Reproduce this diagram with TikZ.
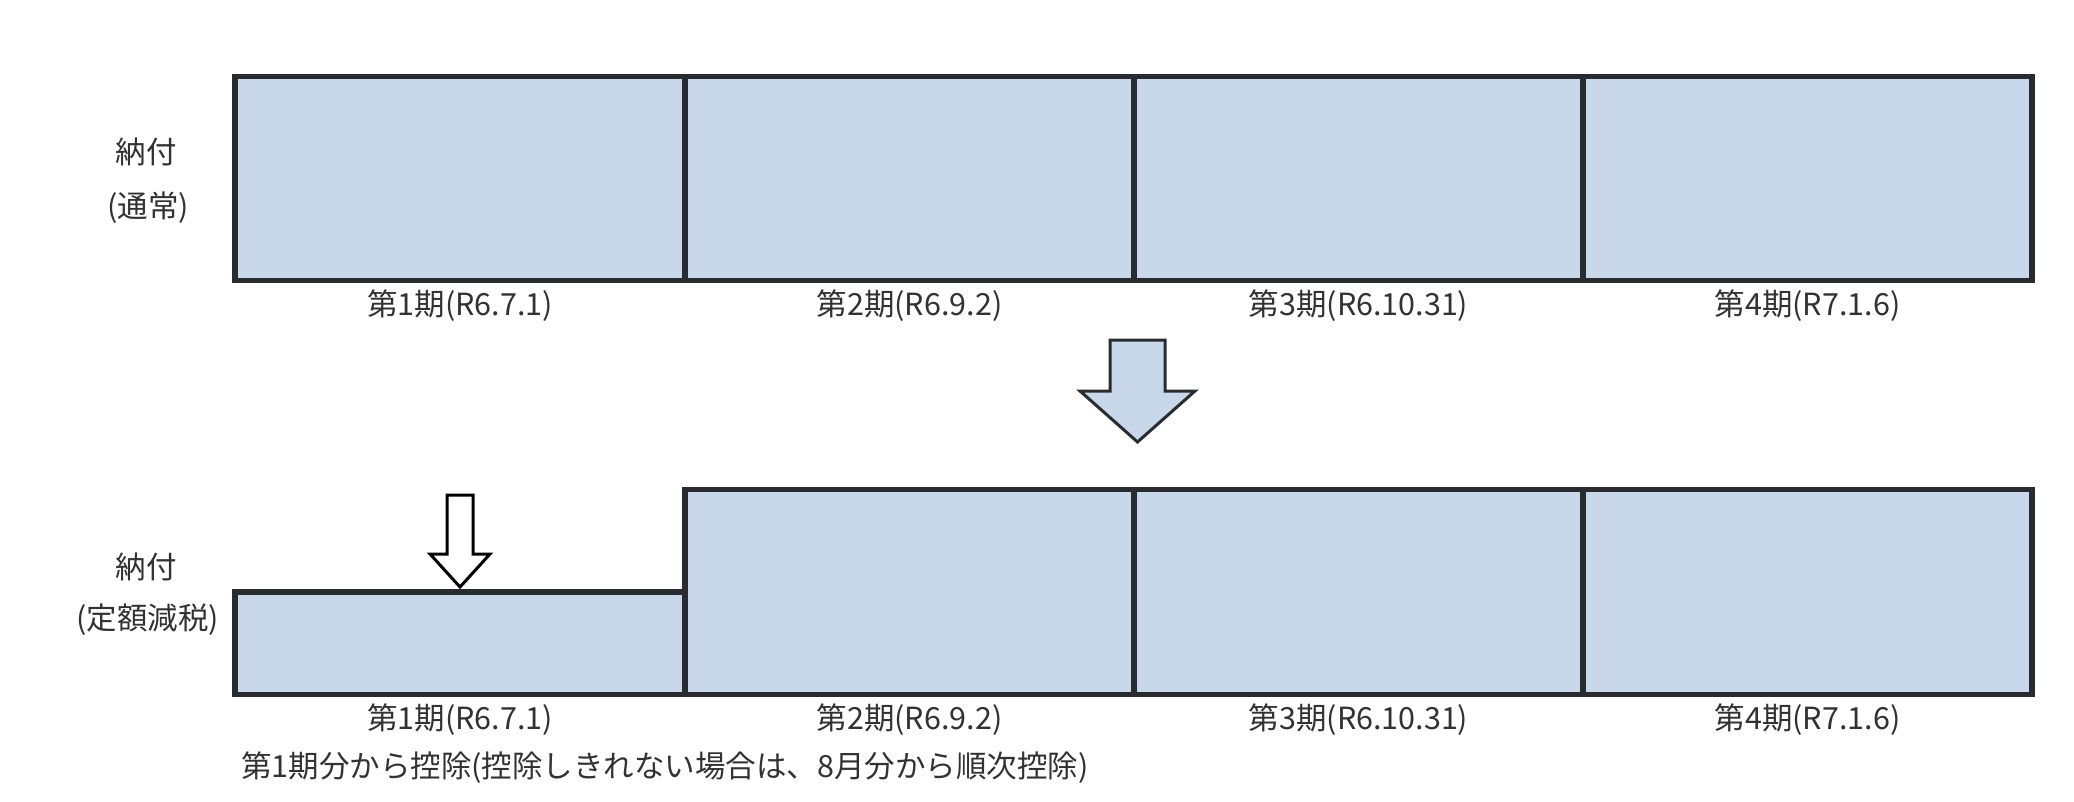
\documentclass[tikz,border=0pt]{standalone}
\usepackage{fontspec}
\newfontfamily\jp{Noto Sans CJK JP}
\definecolor{boxfill}{RGB}{200,216,234}
\definecolor{boxline}{RGB}{40,44,48}
\definecolor{txt}{RGB}{50,50,50}
\begin{document}
\begin{tikzpicture}[x=1pt,y=-1pt,
  periodbox/.style={draw=boxline,fill=boxfill,line width=5.5pt,line join=miter},
  bigarrow/.style={draw=boxline,fill=boxfill,line width=3pt,line join=miter},
  smallarrow/.style={draw=black,fill=white,line width=3pt,line join=miter},
  lbl/.style={font=\jp\fontsize{30.5}{35}\selectfont,text=txt,inner sep=0pt,anchor=base}]
\useasboundingbox[fill=white] (0,0) rectangle (2074,802);
% top row (normal)
\draw[periodbox] (235,76.5) rectangle (685,280.5);
\draw[periodbox] (685,76.5) rectangle (1134,280.5);
\draw[periodbox] (1134,76.5) rectangle (1583,280.5);
\draw[periodbox] (1583,76.5) rectangle (2032,280.5);
\node[lbl] (n1) at (146,164) {納付};
\node[lbl] (n2) at (148,217.5) {(通常)};
\node[lbl] (a1) at (460,316) {第1期(R6.7.1)};
\node[lbl] (a2) at (909.5,316) {第2期(R6.9.2)};
\node[lbl] (a3) at (1358.5,316) {第3期(R6.10.31)};
\node[lbl] (a4) at (1807.5,316) {第4期(R7.1.6)};
% big arrow
\draw[bigarrow] (1110,340) -- (1165,340) -- (1165,391) -- (1195,391) -- (1137.5,442) -- (1080,391) -- (1110,391) -- cycle;
% bottom row (fixed-amount reduction)
\draw[periodbox] (235,592) rectangle (685,694.5);
\draw[periodbox] (685,489.5) rectangle (1134,694.5);
\draw[periodbox] (1134,489.5) rectangle (1583,694.5);
\draw[periodbox] (1583,489.5) rectangle (2032,694.5);
\draw[smallarrow] (447,495) -- (473,495) -- (473,554) -- (490,554) -- (460,587) -- (430,554) -- (447,554) -- cycle;
\node[lbl] (m1) at (146,578) {納付};
\node[lbl] (m2) at (147.5,629) {(定額減税)};
\node[lbl] (b1) at (460,729.5) {第1期(R6.7.1)};
\node[lbl] (b2) at (909.5,729.5) {第2期(R6.9.2)};
\node[lbl] (b3) at (1358.5,729.5) {第3期(R6.10.31)};
\node[lbl] (b4) at (1807.5,729.5) {第4期(R7.1.6)};
\node[lbl,anchor=base west] (note) at (241,777.5) {第1期分から控除(控除しきれない場合は、8月分から順次控除)};
\end{tikzpicture}
\end{document}
